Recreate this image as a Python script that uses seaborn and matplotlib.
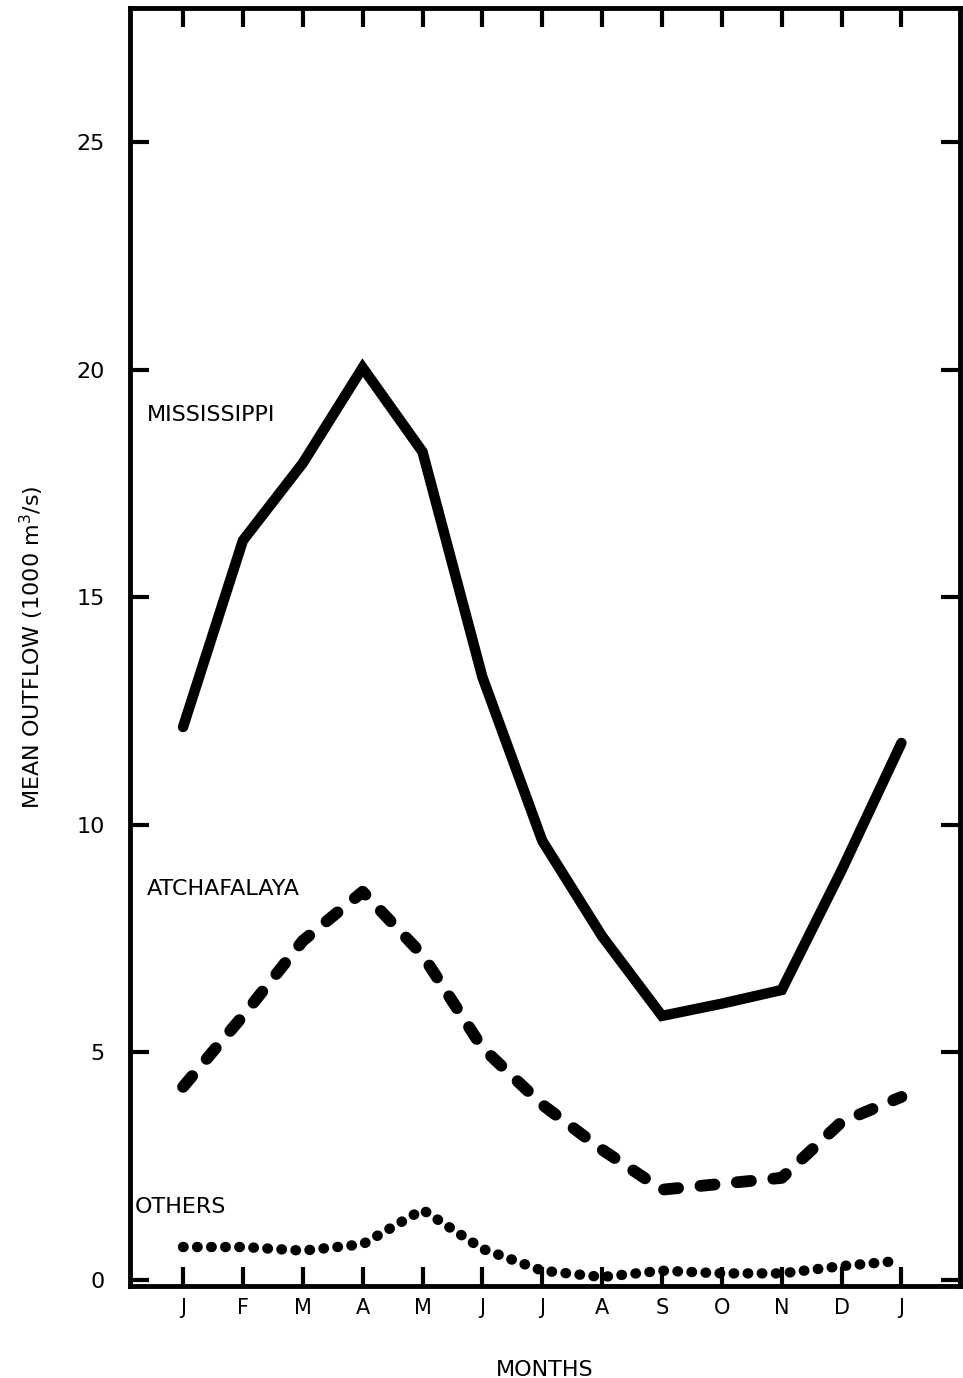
import numpy as np
import pandas as pd
import matplotlib
matplotlib.use("Agg")
import matplotlib.pyplot as plt
import seaborn as sns

# ==========================================================
# Data
# ==========================================================

months = ["J", "F", "M", "A", "M", "J", "J", "A", "S", "O", "N", "D", "J"]

mississippi = [12.15, 16.25, 17.95, 20.05, 18.2, 13.25, 9.65, 7.55, 5.8, 6.07, 6.37, 9.0, 11.8]
atchafalaya = [4.24, 5.8, 7.45, 8.53, 7.14, 5.1, 3.85, 2.86, 1.98, 2.11, 2.24, 3.47, 4.02]
others = [0.72, 0.72, 0.64, 0.78, 1.54, 0.68, 0.2, 0.06, 0.2, 0.14, 0.14, 0.3, 0.42]

y_ticks = [0, 5, 10, 15, 20, 25]
y_ticklabels = ["0", "5", "10", "15", "20", "25"]

df = pd.DataFrame({
    "month": np.arange(len(months)),
    "Mississippi": mississippi,
    "Atchafalaya": atchafalaya,
    "Others": others,
})

# ==========================================================
# Style
# ==========================================================

sns.set_style("ticks")
plt.rcParams['font.family'] = ['DejaVu Sans']
plt.rcParams['text.color'] = 'black'
plt.rcParams['axes.labelcolor'] = 'black'
plt.rcParams['xtick.color'] = 'black'
plt.rcParams['ytick.color'] = 'black'

fig = plt.figure(figsize=(9.63, 13.78), dpi=100)
ax = fig.add_axes([0.135, 0.067, 0.862, 0.927])

# ==========================================================
# Lines
# ==========================================================

sns.lineplot(data=df, x="month", y="Mississippi", ax=ax, color="black",
             linewidth=7.5, solid_capstyle="round", solid_joinstyle="miter")

sns.lineplot(data=df, x="month", y="Atchafalaya", ax=ax, color="black",
             linewidth=8.5, linestyle=(0, (1.2, 1.9)), dash_capstyle="round")

sns.lineplot(data=df, x="month", y="Others", ax=ax, color="black",
             linewidth=7.5, linestyle=(0, (0.05, 1.3)), dash_capstyle="round")

# Series labels
ax.text(-0.6, 19.0, "MISSISSIPPI", fontsize=16, va="center", ha="left")
ax.text(-0.6, 8.6, "ATCHAFALAYA", fontsize=16, va="center", ha="left")
ax.text(-0.8, 1.6, "OTHERS", fontsize=16, va="center", ha="left")

# ==========================================================
# Axes
# ==========================================================

ax.set_xlim(-0.886, 12.98)
ax.set_ylim(-0.13, 27.95)

ax.set_xticks(df["month"])
ax.set_xticklabels(months, fontsize=15)
ax.set_yticks(y_ticks)
ax.set_yticklabels(y_ticklabels, fontsize=16)

ax.tick_params(axis="both", direction="in", length=14, width=3,
               top=True, right=True, colors="black")
ax.tick_params(axis="x", pad=9)
ax.tick_params(axis="y", pad=18)

for spine in ax.spines.values():
    spine.set_linewidth(3.5)
    spine.set_color("black")

ax.set_xlabel("MONTHS", fontsize=16, labelpad=30)
ax.set_ylabel("MEAN OUTFLOW (1000 m$^3$/s)", fontsize=16, labelpad=22)

fig.savefig("out.png", dpi=100, facecolor="white")
